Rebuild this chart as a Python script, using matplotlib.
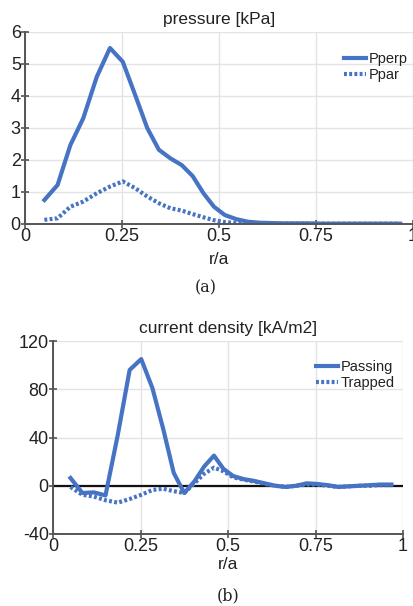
import matplotlib
matplotlib.use("Agg")
import matplotlib.pyplot as plt

# ---------------- data ----------------
r_a = [0.05, 0.084, 0.117, 0.15, 0.185, 0.219, 0.252, 0.284, 0.315, 0.345,
       0.375, 0.404, 0.432, 0.46, 0.487, 0.515, 0.545, 0.575, 0.605, 0.635,
       0.665, 0.695, 0.725, 0.755, 0.785, 0.815, 0.845, 0.875, 0.905, 0.935,
       0.967]

p_perp = [0.75, 1.22, 2.47, 3.3, 4.6, 5.5, 5.07, 4.03, 3.0, 2.32,
          2.05, 1.84, 1.5, 0.96, 0.54, 0.28, 0.15, 0.07, 0.04, 0.03,
          0.02, 0.02, 0.02, 0.01, 0.01, 0.01, 0.01, 0.01, 0.01, 0.01,
          0.01]

p_par = [0.13, 0.18, 0.54, 0.7, 0.96, 1.17, 1.33, 1.12, 0.86, 0.65,
         0.49, 0.42, 0.31, 0.21, 0.12, 0.06, 0.03, 0.02, 0.01, 0.01,
         0.01, 0.01, 0.01, 0.01, 0.01, 0.01, 0.01, 0.01, 0.01, 0.01,
         0.01]

j_passing = [6.4, -6.0, -5.5, -8.0, 42.0, 96.0, 105.0, 81.0, 47.0, 10.6,
             -6.0, 3.6, 16.0, 25.0, 14.0, 8.0, 5.5, 4.0, 2.0, 0.0,
             -1.0, 0.0, 2.0, 1.5, 0.5, -1.0, -0.5, 0.0, 0.5, 1.0,
             1.0]

j_trapped = [-1.0, -7.5, -9.0, -12.0, -14.0, -11.0, -7.5, -3.5, -2.5, -4.5,
             -6.0, 2.0, 10.0, 15.0, 12.0, 7.0, 5.0, 3.5, 1.5, 0.0,
             -1.0, 0.0, 1.0, 1.0, 0.0, -1.0, -0.5, 0.0, 0.0, 0.5,
             0.5]

xticks = [0, 0.25, 0.5, 0.75, 1]
xticklabels = ["0", "0.25", "0.5", "0.75", "1"]
top_yticks = [0, 1, 2, 3, 4, 5, 6]
bot_yticks = [-40, 0, 40, 80, 120]

# ---------------- style ----------------
BLUE = "#4673c3"
SPINE = "#555555"
GRID = "#e3e3e3"
TXT = "#222222"
plt.rcParams["font.family"] = ["Liberation Sans", "DejaVu Sans"]
plt.rcParams["axes.unicode_minus"] = False

fig = plt.figure(figsize=(4.13, 6.06), dpi=100)

ax1 = fig.add_axes([25 / 413, 1 - 224 / 606, 388 / 413, 192 / 606])
ax2 = fig.add_axes([53 / 413, 1 - 534 / 606, 350 / 413, 193 / 606])

dot_style = dict(linestyle=(0, (0.7, 0.55)), dash_capstyle="butt")

ax1.plot(r_a, p_perp, color=BLUE, lw=3.0, label="Pperp")
ax1.plot(r_a, p_par, color=BLUE, lw=3.0, label="Ppar", **dot_style)

ax2.axhline(0, color="#111111", lw=1.6, zorder=1)
ax2.plot(r_a, j_passing, color=BLUE, lw=3.0, label="Passing", zorder=3)
ax2.plot(r_a, j_trapped, color=BLUE, lw=3.0, label="Trapped", zorder=2, **dot_style)

for ax, lp in ((ax1, 5), (ax2, 1)):
    ax.set_xlim(0, 1)
    ax.set_xticks(xticks)
    ax.set_xticklabels(xticklabels)
    ax.grid(True, color=GRID, lw=1.0)
    ax.set_axisbelow(True)
    for s in ("top", "right"):
        ax.spines[s].set_visible(False)
    for s in ("left", "bottom"):
        ax.spines[s].set_color(SPINE)
        ax.spines[s].set_linewidth(1.4)
    ax.tick_params(direction="inout", length=6, width=1.2, color=SPINE,
                   labelsize=13, labelcolor=TXT, pad=0)
    ax.set_xlabel("r/a", fontsize=12.5, color=TXT, labelpad=lp)

ax1.set_ylim(0, 6)
ax1.set_yticks(top_yticks)
ax2.set_ylim(-40, 120)
ax2.set_yticks(bot_yticks)

ax1.set_title("pressure [kPa]", fontsize=12.5, color=TXT, pad=6)
ax2.set_title("current density [kA/m2]", fontsize=12.5, color=TXT, pad=6)

leg_kw = dict(loc="upper right", frameon=False, fontsize=10.5, handlelength=1.5,
              handletextpad=0.2, labelspacing=0.1, borderaxespad=0.3)
leg1 = ax1.legend(bbox_to_anchor=(1.013, 0.948), **leg_kw)
leg2 = ax2.legend(bbox_to_anchor=(1.006, 0.953), **leg_kw)
for leg in (leg1, leg2):
    for t in leg.get_texts():
        t.set_color(TXT)

fig.text(206 / 413, 1 - 288 / 606, "(a)", ha="center", va="center",
         fontsize=11.5, family="DejaVu Serif", color=TXT)
fig.text(228 / 413, 1 - 596 / 606, "(b)", ha="center", va="center",
         fontsize=11.5, family="DejaVu Serif", color=TXT)

fig.savefig("out.png", dpi=100)
